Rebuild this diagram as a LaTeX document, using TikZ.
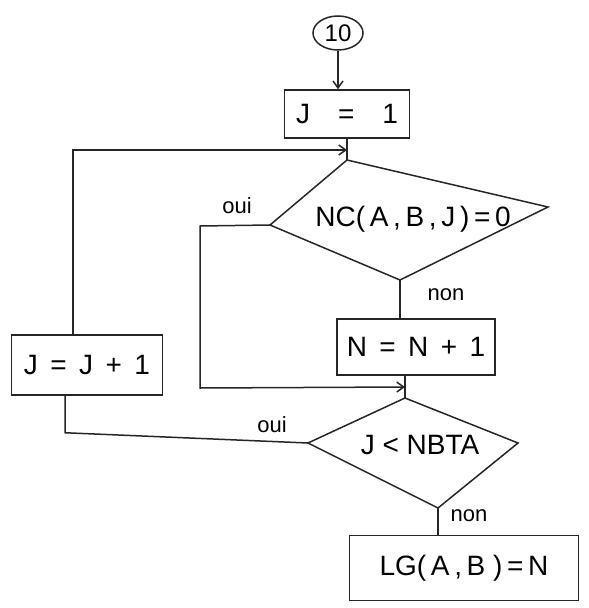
\documentclass[tikz,border=0pt]{standalone}
\usepackage{fontspec}
\setmainfont{Liberation Sans}
\usetikzlibrary{shapes.geometric,arrows.meta,calc}
\tikzset{
  flow/.style={line width=1.5pt, draw=black!85},
  arr/.style={flow, -{Straight Barb[length=7pt,width=10pt]}},
  procbox/.style={draw=black!85, line width=1.5pt, inner sep=0pt, font=\fontsize{28}{32}\selectfont},
  conn/.style={draw=black!85, line width=1.5pt, ellipse, inner sep=0pt, minimum width=50pt, minimum height=34pt, font=\fontsize{24}{28}\selectfont},
  dlabel/.style={font=\fontsize{28}{32}\selectfont},
  branch/.style={font=\fontsize{22}{26}\selectfont}
}
\begin{document}
\begin{tikzpicture}[x=1pt,y=-1pt]
\useasboundingbox (0,0) rectangle (589,608);

% connector and process boxes
\node[conn] (c10) at (338,33) {10};
\node[procbox, minimum width=125pt, minimum height=48pt] (j1) at (347,114) {J\quad=\quad1};
\node[procbox, minimum width=158pt, minimum height=56pt] (ninc) at (416,347) {N\;\,=\;\,N\;\,+\;\,1};
\node[procbox, minimum width=151pt, minimum height=60pt] (jinc) at (87,365) {J\;\,=\;\,J\;\,+\;\,1};
\node[procbox, minimum width=229pt, minimum height=65pt] (lg) at (464,568) {LG(\,A\,,\,B\;)\,=\,N};

% first decision
\coordinate (d1t) at (347,160);
\coordinate (d1r) at (548,207);
\coordinate (d1b) at (400,280);
\coordinate (d1l) at (270,225);
\draw[flow] (d1t) -- (d1r) -- (d1b) -- (d1l) -- cycle;
\node[dlabel] (d1) at (413,219) {NC(\,A\,,\,B\,,\,J\,)\,=\,0};

% second decision
\coordinate (d2t) at (405,398);
\coordinate (d2r) at (518,443);
\coordinate (d2b) at (438,508);
\coordinate (d2l) at (308,443);
\draw[flow] (d2t) -- (d2r) -- (d2b) -- (d2l) -- cycle;
\node[dlabel] (d2) at (420,445) {J\;<\;NBTA};

% junctions where loops come back
\coordinate (jn1) at (347,150);
\coordinate (jn2) at (405,387);

% main flow
\draw[arr] (c10.south) -- (c10.south |- j1.north);
\draw[flow] (j1.south) -- (d1t);
\draw[flow] (d1b) -- (d1b |- ninc.north);
\draw[flow] (d2t |- ninc.south) -- (d2t);
\draw[flow] (d2b) -- (d2b |- lg.north);

% inner loop: oui from first decision
\draw[arr] (d1l) -- (200,226) -- (200,388) -- (jn2);

% outer loop: oui from second decision back through J = J + 1
\draw[flow] (d2l) -- ($(jinc.south)+(-22,37)$) -- ($(jinc.south)+(-22,0)$);
\draw[arr] ($(jinc.north)+(-14,0)$) -- (73,150) -- (jn1);

% branch labels
\node[branch] (o1) at (237,206) {oui};
\node[branch] (n1) at (446,295) {non};
\node[branch] (o2) at (272,425) {oui};
\node[branch] (n2) at (469,516) {non};
\end{tikzpicture}
\end{document}
